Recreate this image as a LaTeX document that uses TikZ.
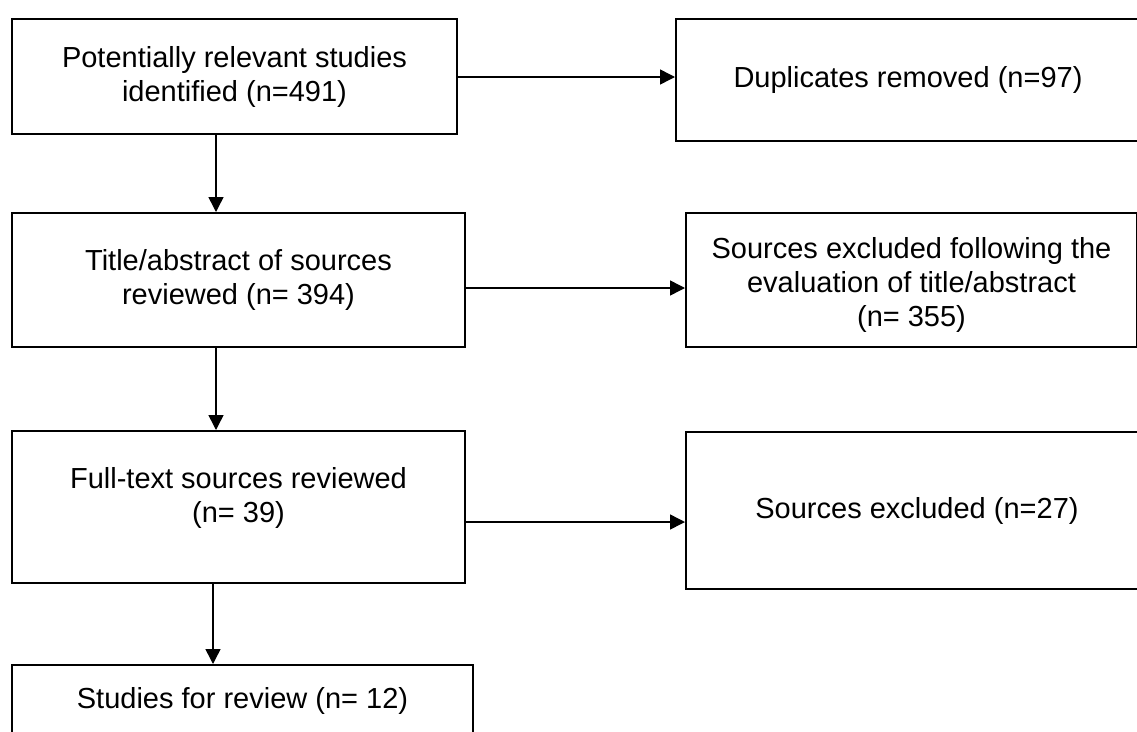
\documentclass[tikz,border=0pt]{standalone}
\usepackage{fontspec}
\setmainfont{Liberation Sans}
\usetikzlibrary{arrows.meta,calc}
\begin{document}
\begin{tikzpicture}[x=1pt,y=-1pt,
  box/.style={draw=black,line width=2pt,rectangle,inner sep=0pt,align=center,
    font=\fontsize{29}{34}\selectfont},
  txt/.style={inner sep=0pt,align=center,font=\fontsize{29}{34}\selectfont},
  arr/.style={line width=1.5pt,-{Triangle[length=15pt,width=15pt]}}]
\useasboundingbox (0,0) rectangle (1137,731);
\clip (0,0) rectangle (1137,731);
\fill[white] (0,0) rectangle (1137,731);
% left column
\node[box,minimum width=445pt,minimum height=115pt] (b1) at (234.5,76.5)
  {Potentially relevant studies\\identified (n=491)};
\node[box,minimum width=453pt,minimum height=134pt] (b2) at (238.5,280)
  {Title/abstract of sources\\reviewed (n= 394)};
\node[box,minimum width=453pt,minimum height=152pt] (b3) at (238.5,507) {};
\node[txt] (t3) at (238.5,498) {Full-text sources reviewed\\(n= 39)};
\node[box,minimum width=461pt,minimum height=72pt] (b4) at (242.5,701)
  {Studies for review (n= 12)};
% right column
\node[box,minimum width=464pt,minimum height=122pt] (d1) at (908,80)
  {Duplicates removed (n=97)};
\node[box,minimum width=451pt,minimum height=134pt] (e2) at (911.5,280) {};
\node[txt] (t2) at (911.5,285) {Sources excluded following the\\evaluation of title/abstract\\(n= 355)};
\node[box,minimum width=462pt,minimum height=157pt] (e3) at (917,510.5)
  {Sources excluded (n=27)};
% connector guides
\coordinate (v1) at (216,0);
\coordinate (v3) at (213,0);
\coordinate (h1) at (0,77);
\coordinate (h2) at (0,288);
\coordinate (h3) at (0,522);
% vertical arrows
\draw[arr] (b1.south -| v1) -- (b2.north -| v1);
\draw[arr] (b2.south -| v1) -- (b3.north -| v1);
\draw[arr] (b3.south -| v3) -- (b4.north -| v3);
% horizontal arrows
\draw[arr] (b1.east |- h1) -- (d1.west |- h1);
\draw[arr] (b2.east |- h2) -- (e2.west |- h2);
\draw[arr] (b3.east |- h3) -- (e3.west |- h3);
\end{tikzpicture}
\end{document}
